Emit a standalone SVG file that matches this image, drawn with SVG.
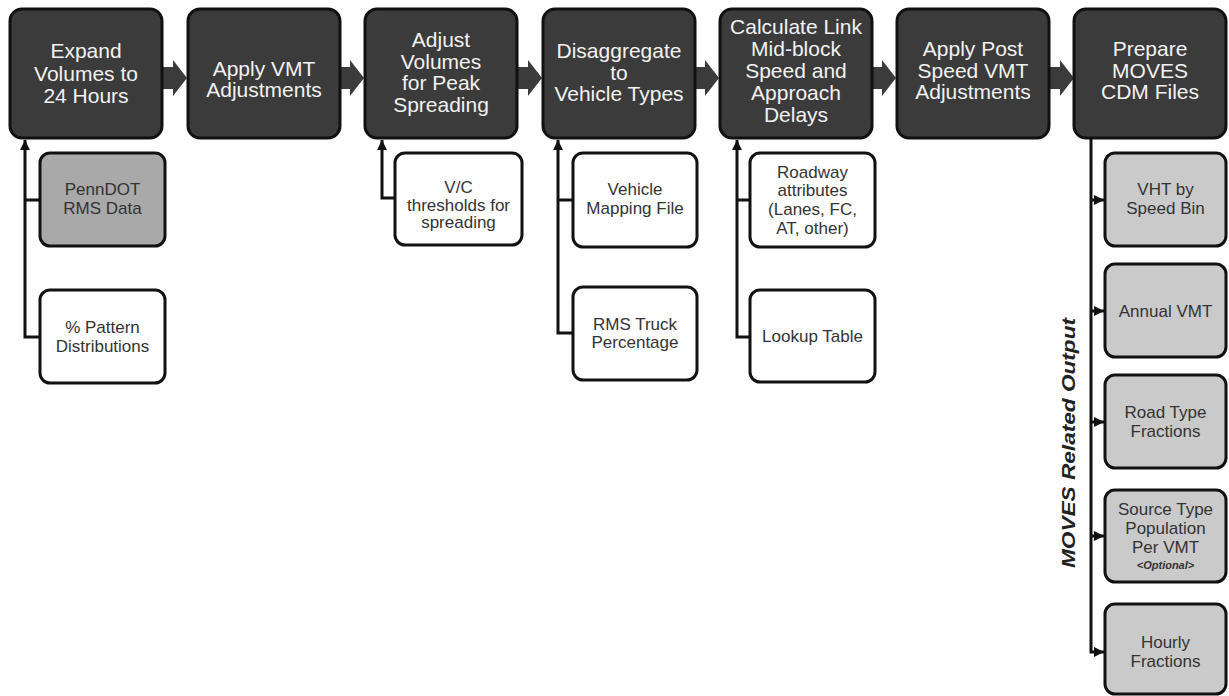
<svg xmlns="http://www.w3.org/2000/svg" width="1229" height="696" viewBox="0 0 1229 696">
<style>
.main rect{fill:#3b3b3b;stroke:#111;stroke-width:3}
.main text{fill:#f2f2f2;font-family:"Liberation Sans",Arial,sans-serif;font-size:21px;text-anchor:middle}
.in rect{fill:#fff;stroke:#111;stroke-width:3}
.db rect{fill:#a9a9a9}
.out rect{fill:#cacaca;stroke:#111;stroke-width:3}
.in text,.out text{fill:#333;font-family:"Liberation Sans",Arial,sans-serif;font-size:17px;text-anchor:middle}
.flow{fill:#3b3b3b}
.conn path{fill:none;stroke:#111;stroke-width:3}
.lbl{font-family:"Liberation Sans",Arial,sans-serif;font-size:19px;font-weight:bold;font-style:italic;fill:#222;text-anchor:middle}
</style>
<defs>
<marker id="ah" markerUnits="userSpaceOnUse" markerWidth="10" markerHeight="10" refX="10" refY="5" orient="auto" viewBox="0 0 10 10">
<path d="M0,0 L10,5 L0,10 z" fill="#111"/>
</marker>
</defs>
<rect width="1229" height="696" fill="#fff"/>
<g id="flow-arrows">
<polygon class="flow" points="160,67 173,67 173,60 187,78 173,96 173,89 160,89"/>
<polygon class="flow" points="337,67 350,67 350,60 364,78 350,96 350,89 337,89"/>
<polygon class="flow" points="515,67 528,67 528,60 542,78 528,96 528,89 515,89"/>
<polygon class="flow" points="692,67 705,67 705,60 719,78 705,96 705,89 692,89"/>
<polygon class="flow" points="869,67 882,67 882,60 896,78 882,96 882,89 869,89"/>
<polygon class="flow" points="1047,67 1060,67 1060,60 1074,78 1060,96 1060,89 1047,89"/>
</g>
<g id="n1" class="main"><rect x="10" y="9" width="152" height="129" rx="12"/><text x="86" y="58">Expand<tspan x="86" y="81">Volumes to</tspan><tspan x="86" y="103">24 Hours</tspan></text></g>
<g id="n2" class="main"><rect x="188" y="9" width="152" height="129" rx="12"/><text x="264" y="76">Apply VMT<tspan x="264" y="97">Adjustments</tspan></text></g>
<g id="n3" class="main"><rect x="365" y="9" width="152" height="129" rx="12"/><text x="441" y="47">Adjust<tspan x="441" y="68.5">Volumes</tspan><tspan x="441" y="90">for Peak</tspan><tspan x="441" y="111.5">Spreading</tspan></text></g>
<g id="n4" class="main"><rect x="543" y="9" width="152" height="129" rx="12"/><text x="619" y="58">Disaggregate<tspan x="619" y="79.5">to</tspan><tspan x="619" y="101">Vehicle Types</tspan></text></g>
<g id="n5" class="main"><rect x="720" y="9" width="152" height="129" rx="12"/><text x="796" y="34">Calculate Link<tspan x="796" y="56">Mid-block</tspan><tspan x="796" y="78">Speed and</tspan><tspan x="796" y="100">Approach</tspan><tspan x="796" y="122">Delays</tspan></text></g>
<g id="n6" class="main"><rect x="897" y="9" width="152" height="129" rx="12"/><text x="973" y="56">Apply Post<tspan x="973" y="77.5">Speed VMT</tspan><tspan x="973" y="99">Adjustments</tspan></text></g>
<g id="n7" class="main"><rect x="1074" y="9" width="152" height="129" rx="12"/><text x="1150" y="56">Prepare<tspan x="1150" y="77.5">MOVES</tspan><tspan x="1150" y="99">CDM Files</tspan></text></g>
<g class="conn" id="connectors">
<path d="M40,200 H25"/>
<path d="M40,337 H25 V140" marker-end="url(#ah)"/>
<path d="M395,198 H382 V140" marker-end="url(#ah)"/>
<path d="M573,200 H558"/>
<path d="M573,333 H558 V140" marker-end="url(#ah)"/>
<path d="M750,200 H737"/>
<path d="M750,337 H737 V140" marker-end="url(#ah)"/>
<path d="M1091,139 V652 H1104" marker-end="url(#ah)"/>
<path d="M1091,200 H1104" marker-end="url(#ah)"/>
<path d="M1091,311 H1104" marker-end="url(#ah)"/>
<path d="M1091,422 H1104" marker-end="url(#ah)"/>
<path d="M1091,536 H1104" marker-end="url(#ah)"/>
</g>
<g id="i1" class="in db"><rect x="40" y="153" width="125" height="93" rx="10"/><text x="102.5" y="195">PennDOT<tspan x="102.5" y="214">RMS Data</tspan></text></g>
<g id="i2" class="in"><rect x="40" y="290" width="125" height="93" rx="10"/><text x="102.5" y="333">% Pattern<tspan x="102.5" y="352">Distributions</tspan></text></g>
<g id="i3" class="in"><rect x="395" y="153" width="127" height="92" rx="10"/><text x="458.5" y="193">V/C<tspan x="458.5" y="210.5">thresholds for</tspan><tspan x="458.5" y="228">spreading</tspan></text></g>
<g id="i4" class="in"><rect x="573" y="153" width="124" height="94" rx="10"/><text x="635" y="195">Vehicle<tspan x="635" y="214">Mapping File</tspan></text></g>
<g id="i5" class="in"><rect x="573" y="287" width="124" height="93" rx="10"/><text x="635" y="330">RMS Truck<tspan x="635" y="348">Percentage</tspan></text></g>
<g id="i6" class="in"><rect x="750" y="153" width="125" height="94" rx="10"/><text x="812.5" y="177.5">Roadway<tspan x="812.5" y="196">attributes</tspan><tspan x="812.5" y="215">(Lanes, FC,</tspan><tspan x="812.5" y="234">AT, other)</tspan></text></g>
<g id="i7" class="in"><rect x="750" y="290" width="125" height="92" rx="10"/><text x="812.5" y="342">Lookup Table</text></g>
<g id="o1" class="out"><rect x="1105" y="153" width="121" height="93" rx="10"/><text x="1165.5" y="195">VHT by<tspan x="1165.5" y="214">Speed Bin</tspan></text></g>
<g id="o2" class="out"><rect x="1105" y="264" width="121" height="93" rx="10"/><text x="1165.5" y="317">Annual VMT</text></g>
<g id="o3" class="out"><rect x="1105" y="375" width="121" height="93" rx="10"/><text x="1165.5" y="418">Road Type<tspan x="1165.5" y="437">Fractions</tspan></text></g>
<g id="o4" class="out"><rect x="1105" y="490" width="121" height="92" rx="10"/><text x="1165.5" y="515">Source Type<tspan x="1165.5" y="534">Population</tspan><tspan x="1165.5" y="553">Per VMT</tspan><tspan x="1165.5" y="569" style="font-size:11px;font-weight:bold;font-style:italic">&lt;Optional&gt;</tspan></text></g>
<g id="o5" class="out"><rect x="1105" y="604" width="121" height="90" rx="10"/><text x="1165.5" y="648">Hourly<tspan x="1165.5" y="667">Fractions</tspan></text></g>
<text class="lbl" transform="translate(1075,443) rotate(-90)" textLength="250" lengthAdjust="spacingAndGlyphs">MOVES Related Output</text>
</svg>
